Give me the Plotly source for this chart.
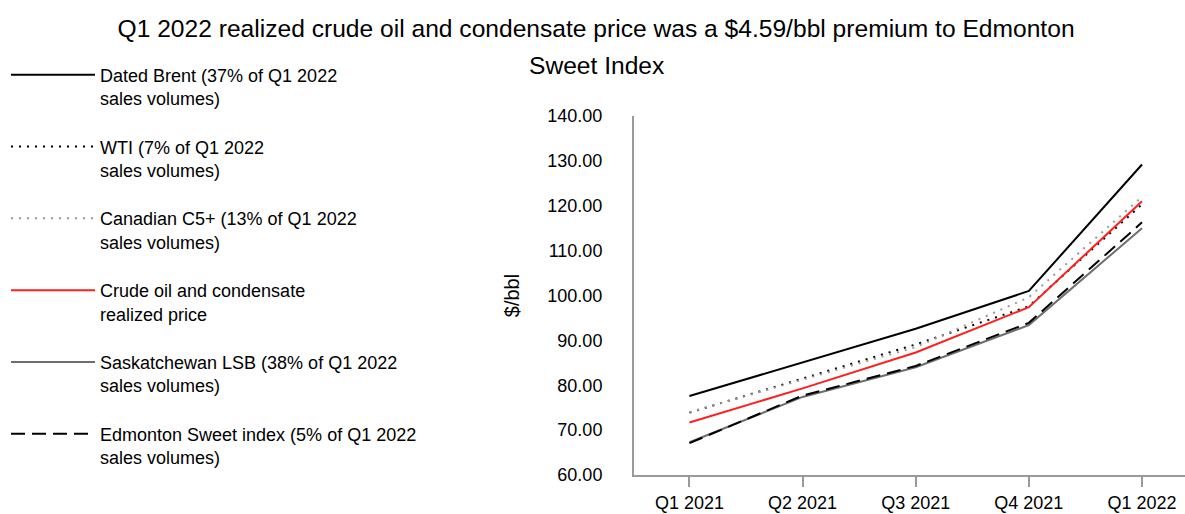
import plotly.graph_objects as go

quarters = ["Q1 2021", "Q2 2021", "Q3 2021", "Q4 2021", "Q1 2022"]
brent = [77.6, 85.1, 92.6, 101.0, 129.2]
wti = [73.9, 81.5, 89.1, 97.6, 120.3]
c5 = [74.0, 81.3, 88.5, 99.6, 122.0]
realized = [71.7, 79.3, 87.3, 97.4, 121.0]
lsb = [67.3, 77.4, 84.0, 93.4, 115.0]
edm = [67.1, 77.7, 84.3, 93.9, 116.3]

names = [
    "Dated Brent (37% of Q1 2022<br>sales volumes)",
    "WTI (7% of Q1 2022<br>sales volumes)",
    "Canadian C5+ (13% of Q1 2022<br>sales volumes)",
    "Crude oil and condensate<br>realized price",
    "Saskatchewan LSB (38% of Q1 2022<br>sales volumes)",
    "Edmonton Sweet index (5% of Q1 2022<br>sales volumes)",
]
series = [brent, wti, c5, realized, lsb, edm]
colors = ["#000000", "#000000", "#9a9a9a", "#ff1f1f", "#6e6e6e", "#000000"]
dashes = ["solid", "2px,6px", "2px,6px", "solid", "solid", "14px,7px"]

title_line1 = "Q1 2022 realized crude oil and condensate price was a $4.59/bbl premium to Edmonton"
title_line2 = "Sweet Index"

FONT = "Liberation Sans, Arial, sans-serif"

fig = go.Figure()
for i, (nm, ys, c, d) in enumerate(zip(names, series, colors, dashes)):
    fig.add_trace(go.Scatter(
        x=quarters, y=ys, mode="lines", name=nm, legendgroup=f"g{i}",
        line=dict(color=c, width=2, dash=d),
    ))

fig.update_layout(
    width=1185, height=514,
    paper_bgcolor="white", plot_bgcolor="white",
    margin=dict(l=634, r=0, t=116, b=39),
    title=dict(
        text=title_line1,
        x=0.503, xanchor="center", xref="container",
        y=1 - 28 / 514, yanchor="middle", yref="container",
        font=dict(family=FONT, size=24.6, color="#000000"),
    ),
    font=dict(family=FONT, size=18, color="#000000"),
    legend=dict(
        xref="container", yref="container", x=6 / 1185, y=0.89,
        xanchor="left", yanchor="top", valign="top",
        font=dict(family=FONT, size=18, color="#000000"),
        tracegroupgap=22, itemwidth=84, maxheight=1,
        bgcolor="rgba(0,0,0,0)",
    ),
    showlegend=True,
    annotations=[dict(
        text=title_line2, xref="paper", yref="paper",
        x=(597 - 634) / 551, y=1 + (116 - 66) / 359,
        xanchor="center", yanchor="middle", showarrow=False,
        font=dict(family=FONT, size=24.6, color="#000000"),
    )],
)
fig.update_xaxes(
    range=[-0.49, 4.38], showgrid=False, showline=True, linecolor="#999999", linewidth=2,
    ticks="outside", ticklen=10, tickcolor="#999999", tickwidth=2,
    tickfont=dict(family=FONT, size=18, color="#000000"),
)
fig.update_yaxes(
    range=[60, 140], dtick=10, tickformat=".2f", showgrid=False, zeroline=False,
    showline=True, linecolor="#999999", linewidth=2, ticks="",
    ticklabelstandoff=26,
    tickfont=dict(family=FONT, size=18, color="#000000"),
    title=dict(text="$/bbl", standoff=22, font=dict(family=FONT, size=20, color="#000000")),
)

fig.write_html(
    "out.html",
    config={"displayModeBar": False},
    post_script="document.body.style.margin='0px';document.body.style.overflow='hidden';",
)
